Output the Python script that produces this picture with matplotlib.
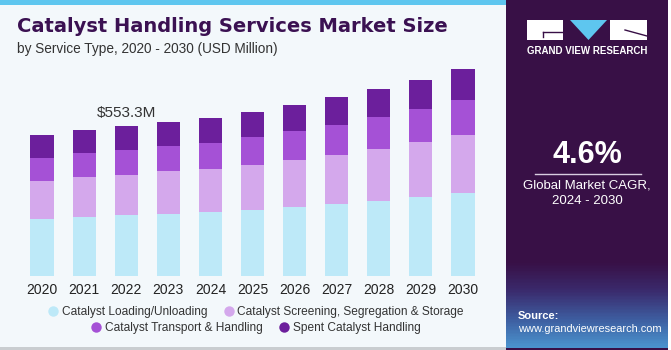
import matplotlib
matplotlib.use("Agg")
import matplotlib.pyplot as plt
import numpy as np
from matplotlib.patches import Rectangle, Polygon
from matplotlib.lines import Line2D
from matplotlib.colors import LinearSegmentedColormap

plt.rcParams['font.family'] = ['Liberation Sans', 'DejaVu Sans']

years = ["2020", "2021", "2022", "2023", "2024", "2025", "2026", "2027", "2028", "2029", "2030"]
loading = [210, 218, 224, 230, 235, 244, 256, 266, 276, 290, 305]
screening = [140, 148, 150, 156, 160, 167, 172, 181, 194, 203, 214]
transport = [85, 88, 90, 94, 97, 101, 106, 111, 116, 122, 129]
spent = [85, 85, 89, 89, 90, 92, 96, 101, 103, 110, 114]
series_names = ["Catalyst Loading/Unloading", "Catalyst Screening, Segregation & Storage",
                "Catalyst Transport & Handling", "Spent Catalyst Handling"]
colors = ["#bde9f8", "#d4a8ec", "#a551d6", "#6c1f9c"]
annot_label = "$553.3M"
annot_index = 2

W, H = 671, 350
fig = plt.figure(figsize=(W / 100, H / 100), dpi=100)
fig.patch.set_facecolor("#f3f8fb")

def fx(px):
    return px / W

def fy(py):
    return 1 - py / H

# background decorations
bg = fig.add_axes([0, 0, 1, 1], zorder=-10)
bg.set_xlim(0, W)
bg.set_ylim(H, 0)
bg.axis("off")
bg.add_patch(Rectangle((0, 0), 506, 5, color="#5ec6ef", lw=0))
bg.add_patch(Rectangle((0, 346.5), W, 3.5, color="#c9cdd0", lw=0))
bg.add_patch(Rectangle((668, 0), 3, H, color="#ffffff", lw=0))

# chart
ax = fig.add_axes([fx(21), 74 / H, fx(484) - fx(21), 216 / H])
ax.set_facecolor("none")
x = np.arange(len(years))
bottom = np.zeros(len(years))
for vals, c, name in zip([loading, screening, transport, spent], colors, series_names):
    ax.bar(x, vals, width=0.55, bottom=bottom, color=c, label=name,
           edgecolor="none", linewidth=0)
    bottom += np.array(vals)
ax.set_xlim(-0.5, 10.5)
ax.set_ylim(0, 797)
ax.set_xticks(x)
ax.set_xticklabels(years, fontsize=10, color="#222222")
ax.tick_params(axis="x", length=0, pad=5)
ax.set_yticks([])
for s in ax.spines.values():
    s.set_visible(False)
ax.text(annot_index, bottom[annot_index] + 22, annot_label, ha="center", va="bottom",
        fontsize=11, color="#333333")

# legend (two centered rows)
def mk(c):
    return Line2D([], [], marker="o", linestyle="none", markersize=7.5,
                  markerfacecolor=c, markeredgecolor="none")

for row, yy in ((0, 312), (1, 328)):
    fig.legend([mk(colors[2 * row]), mk(colors[2 * row + 1])],
               series_names[2 * row:2 * row + 2], ncol=2,
               loc="center", bbox_to_anchor=(fx(255), fy(yy)), frameon=False,
               fontsize=8.6, handletextpad=0.15, columnspacing=1.15, handlelength=1.2,
               labelcolor="#333333", borderpad=0, borderaxespad=0)

# titles
fig.text(fx(17), fy(27), "Catalyst Handling Services Market Size", fontsize=14,
         fontweight="bold", color="#3b1152", va="center", ha="left",
         family="DejaVu Sans")
fig.text(fx(17), fy(49), "by Service Type, 2020 - 2030 (USD Million)", fontsize=9.8,
         color="#333333", va="center", ha="left")

# right panel
pn = fig.add_axes([fx(506), 0, fx(668) - fx(506), 1], zorder=5)
pn.set_xlim(506, 668)
pn.set_ylim(H, 0)
pn.axis("off")
pn.add_patch(Rectangle((506, 0), 162, H, color="#381046", lw=0))
cm = LinearSegmentedColormap.from_list("g", ["#381046", "#3a2a6c", "#3d5b9e", "#4a92cc"])
y0, y1 = 262, 347
n = 60
for i in range(n):
    ya = y0 + (y1 - y0) * i / n
    pn.add_patch(Rectangle((506, ya), 162, (y1 - y0) / n + 0.6, color=cm(i / (n - 1)), lw=0, zorder=1))
# logo
pn.add_patch(Rectangle((527, 20), 36, 20, color="white", lw=0, zorder=3))
pn.add_patch(Polygon([(570, 20), (607, 20), (588.5, 40)], closed=True, color="#5ec6ef", lw=0, zorder=3))
pn.add_patch(Rectangle((610, 20), 37, 20, color="white", lw=0, zorder=3))
pn.plot([543, 563], [32, 32], color="#381046", lw=1, zorder=4)
pn.plot([543, 543], [32, 37], color="#381046", lw=1, zorder=4)
pn.plot([625, 647], [30, 36], color="#381046", lw=1, zorder=4)
pn.text(587, 51, "GRAND VIEW RESEARCH", color="white", fontsize=7, fontweight="bold",
        ha="center", va="center", zorder=4)
pn.text(587, 155, "4.6%", color="white", fontsize=22, fontweight="bold",
        ha="center", va="center", zorder=4)
pn.plot([535, 641], [173.5, 173.5], color="#d8cde0", lw=1, zorder=4)
pn.text(587, 186, "Global Market CAGR,", color="white", fontsize=9.5,
        ha="center", va="center", zorder=4)
pn.text(587, 201, "2024 - 2030", color="white", fontsize=9.5,
        ha="center", va="center", zorder=4)
pn.text(518, 316, "Source:", color="white", fontsize=8, fontweight="bold",
        ha="left", va="center", zorder=4)
pn.text(518, 329, "www.grandviewresearch.com", color="white", fontsize=7.9,
        ha="left", va="center", zorder=4)

fig.savefig("out.png", dpi=100, facecolor=fig.get_facecolor())
